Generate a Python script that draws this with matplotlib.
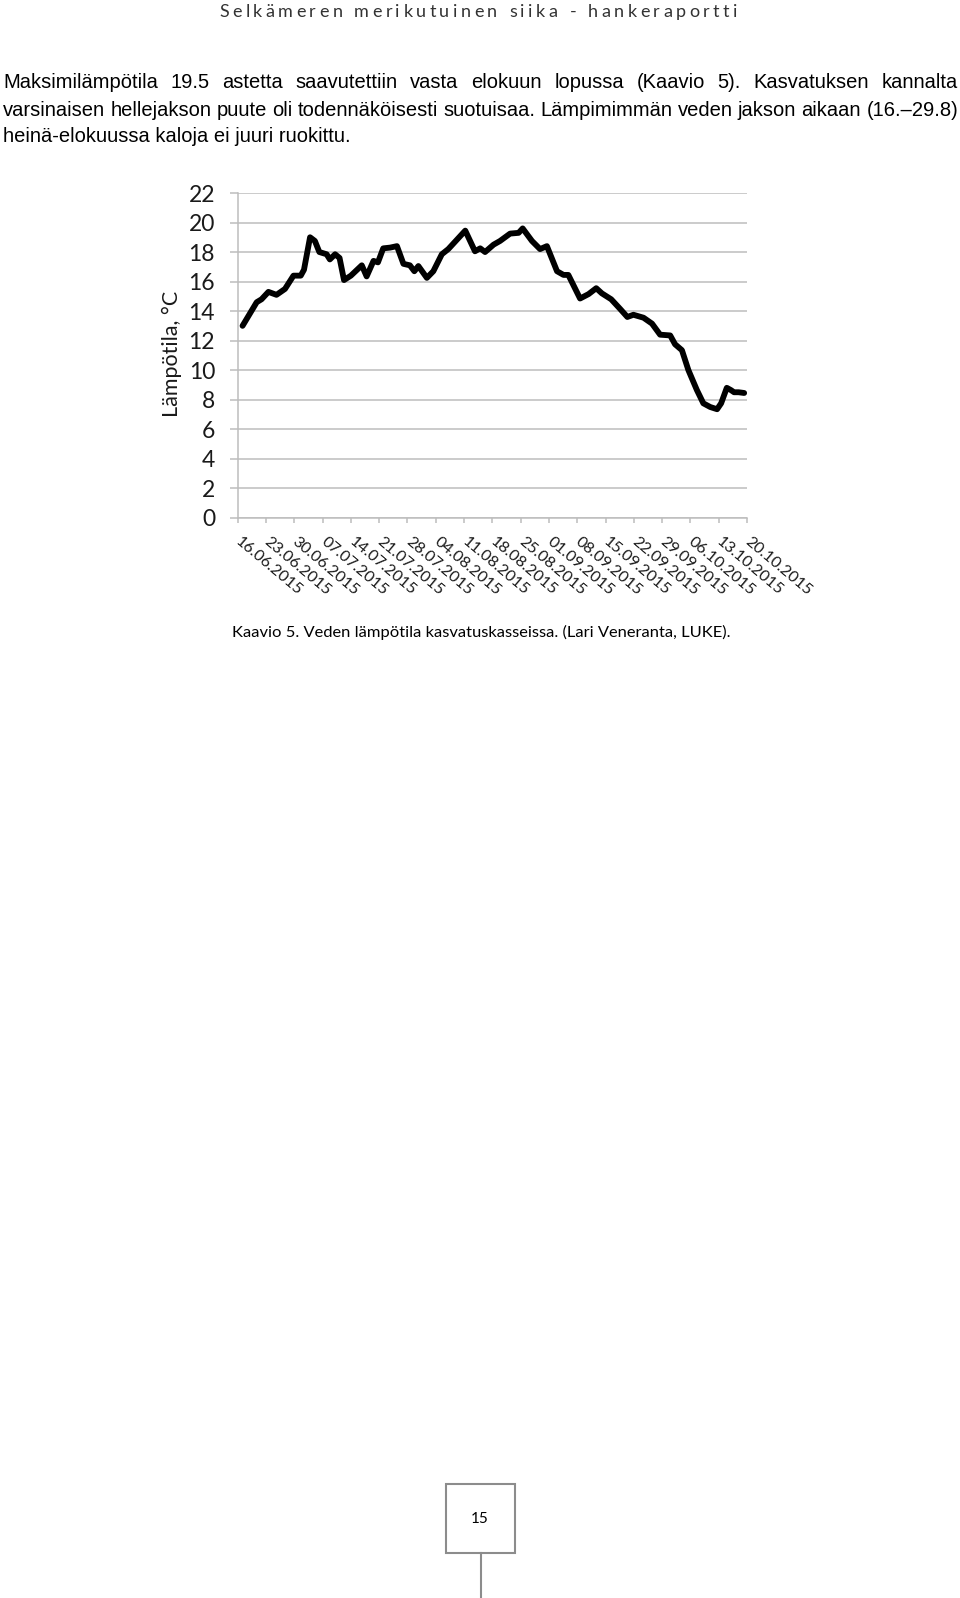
import matplotlib.pyplot as plt
from matplotlib.patches import Rectangle
from matplotlib.lines import Line2D

W, H = 960, 1598

HEADER = "Selkämeren merikutuinen siika - hankeraportti"
BODY_LINES = [
    "Maksimilämpötila 19.5 astetta saavutettiin vasta elokuun lopussa (Kaavio 5). Kasvatuksen kannalta",
    "varsinaisen hellejakson puute oli todennäköisesti suotuisaa. Lämpimimmän veden jakson aikaan (16.–29.8)",
    "heinä-elokuussa kaloja ei juuri ruokittu.",
]
CAPTION = "Kaavio 5. Veden lämpötila kasvatuskasseissa. (Lari Veneranta, LUKE)."
PAGE_NO = "15"
Y_LABEL = "Lämpötila, °C"

# days counted from 16.06.2015, water temperature in °C
DAYS = [1.2, 4.7, 5.9, 7.6, 9.6, 11.7, 13.8, 15.6, 16.4, 17.9,
        19.1, 20.2, 22.0, 22.8, 24.1, 25.2, 26.3, 28.0, 30.7, 31.9,
        33.6, 34.7, 36.0, 37.7, 39.4, 41.0, 42.6, 43.7, 44.7, 46.8,
        48.4, 50.5, 52.1, 56.3, 58.7, 60.0, 61.2, 63.3, 64.9, 67.4,
        69.5, 70.5, 72.8, 74.8, 76.5, 79.0, 80.6, 81.8, 84.7, 86.8,
        88.7, 90.1, 92.4, 94.6, 96.4, 97.9, 100.4, 102.5, 104.5, 107.0,
        108.2, 109.9, 111.5, 113.6, 115.2, 116.9, 118.6, 119.6, 121.0, 122.0,
        122.8, 123.9, 125.3]
TEMPS = [13.0, 14.6, 14.8, 15.3, 15.1, 15.5, 16.4, 16.4, 16.8, 19.0,
         18.75, 18.0, 17.85, 17.5, 17.85, 17.6, 16.1, 16.4, 17.1, 16.35,
         17.4, 17.3, 18.25, 18.3, 18.4, 17.2, 17.1, 16.7, 17.05, 16.25,
         16.7, 17.85, 18.2, 19.45, 18.05, 18.25, 18.0, 18.5, 18.75, 19.25,
         19.3, 19.6, 18.75, 18.2, 18.4, 16.7, 16.45, 16.45, 14.85, 15.15,
         15.55, 15.2, 14.8, 14.15, 13.6, 13.75, 13.55, 13.15, 12.4, 12.35,
         11.75, 11.35, 10.0, 8.65, 7.75, 7.5, 7.35, 7.75, 8.8, 8.65,
         8.5, 8.5, 8.45]
TICK_LABELS = ["16.06.2015", "23.06.2015", "30.06.2015", "07.07.2015", "14.07.2015",
               "21.07.2015", "28.07.2015", "04.08.2015", "11.08.2015", "18.08.2015",
               "25.08.2015", "01.09.2015", "08.09.2015", "15.09.2015", "22.09.2015",
               "29.09.2015", "06.10.2015", "13.10.2015", "20.10.2015"]
Y_TICKS = [0, 2, 4, 6, 8, 10, 12, 14, 16, 18, 20, 22]

GRID = "#bdbdbd"
TEXT = "#1a1a1a"
CHART_FONT = "Lato"
BODY_FONT = "Liberation Sans"


def fx(x):
    return x / W


def fy(y):
    return 1 - y / H


def text_width(fig, s, **kw):
    t = fig.text(0, 0, s, **kw)
    w = t.get_window_extent(renderer=fig.canvas.get_renderer()).width
    t.remove()
    return w


def justified(fig, line, x0, x1, y, **kw):
    words = line.split()
    widths = [text_width(fig, w, **kw) for w in words]
    gap = (x1 - x0 - sum(widths)) / (len(words) - 1)
    x = x0
    for w, wd in zip(words, widths):
        fig.text(fx(x), fy(y), w, ha="left", va="baseline", **kw)
        x += wd + gap


def tracked(fig, s, x0, x1, y, space=6.0, **kw):
    widths = [space if c == " " else text_width(fig, c, **kw) for c in s]
    track = (x1 - x0 - sum(widths)) / (len(s) - 1)
    x = x0
    for c, wd in zip(s, widths):
        if c != " ":
            fig.text(fx(x), fy(y), c, ha="left", va="center", **kw)
        x += wd + track


fig = plt.figure(figsize=(W / 100, H / 100), dpi=100)

# header
tracked(fig, HEADER, 219, 737, 12, space=5.0, family=CHART_FONT, fontsize=13, color="#333333")

# body paragraph, size fitted so the last (unjustified) line keeps its width
body_size = 10 * 349 / text_width(fig, BODY_LINES[2], family=BODY_FONT, fontsize=10)
body_kw = dict(family=BODY_FONT, fontsize=body_size, color="black")
justified(fig, BODY_LINES[0], 3, 958, 88.5, **body_kw)
justified(fig, BODY_LINES[1], 3, 958, 115.5, **body_kw)
fig.text(fx(3), fy(142.5), BODY_LINES[2], ha="left", va="baseline", **body_kw)

# chart
ax = fig.add_axes([fx(237.7), fy(517.7), (747 - 237.7) / W, (517.7 - 193) / H])
ax.plot(DAYS, TEMPS, color="black", lw=4.2, solid_joinstyle="round", solid_capstyle="round", zorder=3)
ax.set_xlim(0, 7 * (len(TICK_LABELS) - 1))
ax.set_ylim(0, 22)
ax.set_yticks(Y_TICKS)
ax.set_xticks([7 * i for i in range(len(TICK_LABELS))])
ax.set_xticklabels(TICK_LABELS, rotation=-40, ha="left", va="center", rotation_mode="anchor",
                   family=CHART_FONT, fontsize=11.5, color=TEXT)
for lab in ax.get_yticklabels():
    lab.set_family(CHART_FONT)
ax.tick_params(axis="y", length=5.8, width=1.1, color=GRID, pad=10.5, labelsize=16.5, labelcolor=TEXT)
ax.tick_params(axis="x", length=3.6, width=1.1, color=GRID, pad=12.2)
ax.grid(axis="y", color=GRID, lw=1.1)
ax.set_axisbelow(True)
for side in ("top", "right"):
    ax.spines[side].set_visible(False)
for side in ("left", "bottom"):
    ax.spines[side].set_color(GRID)
    ax.spines[side].set_linewidth(1.1)

fig.text(fx(172), fy(354), Y_LABEL, rotation=90, ha="center", va="center",
         family=CHART_FONT, fontsize=15.5, color=TEXT)

# caption
cap_size = 10 * 496 / text_width(fig, CAPTION, family=CHART_FONT, fontsize=10)
fig.text(fx(232), fy(637), CAPTION, ha="left", va="baseline", family=CHART_FONT,
         fontsize=cap_size, color="black")

# page number box
fig.patches.append(Rectangle((fx(445.5), fy(1552.7)), 69 / W, 68.4 / H, transform=fig.transFigure,
                             fill=False, ec="#8c8c8c", lw=1.5))
fig.add_artist(Line2D([fx(481), fx(481)], [fy(1552.7), fy(1598)], transform=fig.transFigure,
                      color="#8c8c8c", lw=1.5))
fig.text(fx(480), fy(1519), PAGE_NO, ha="center", va="center", family=CHART_FONT,
         fontsize=11, color="black")

fig.savefig("out.png", dpi=100, facecolor="white")
